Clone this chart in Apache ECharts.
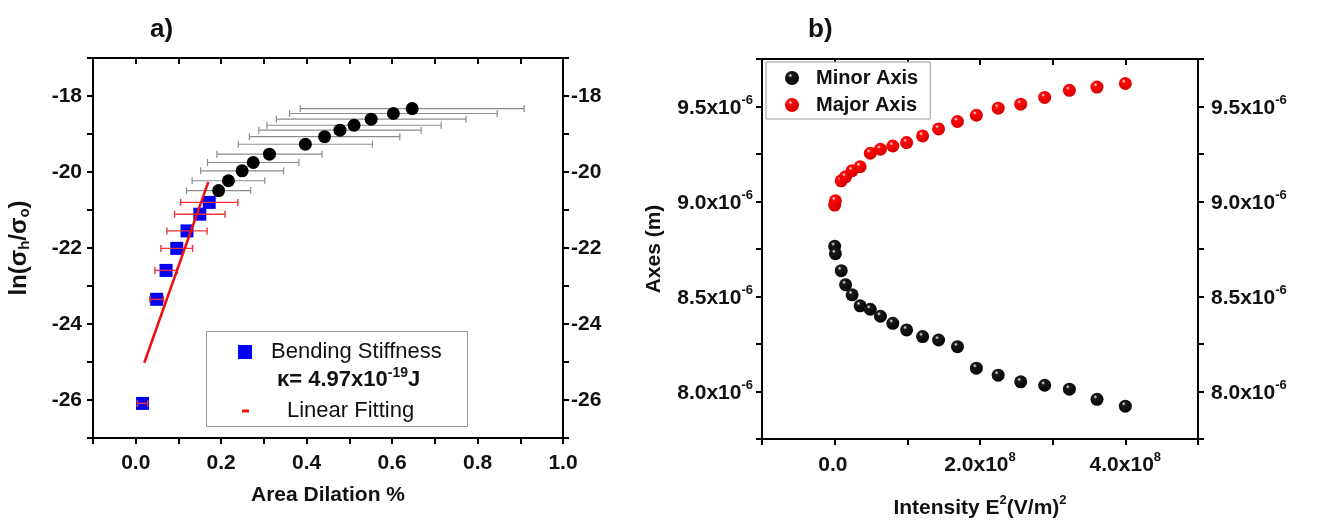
<!DOCTYPE html>
<html>
<head>
<meta charset="utf-8">
<script src="https://cdn.jsdelivr.net/npm/echarts@6/dist/echarts.min.js"></script>
<style>
  html, body { margin: 0; padding: 0; background: #fff; }
  #chart { width: 1322px; height: 520px; }
</style>
</head>
<body>
<div id="chart"></div>
<script>
// ---- Panel a: bending stiffness from area dilation ----
const dilationFree = [0.194, 0.217, 0.249, 0.275, 0.313, 0.397, 0.442, 0.478, 0.511, 0.551, 0.603, 0.647];
const lnRatioFree  = [-20.49, -20.23, -19.97, -19.75, -19.53, -19.27, -19.07, -18.90, -18.77, -18.61, -18.46, -18.33];
const dilationFreeErr = [0.075, 0.085, 0.097, 0.107, 0.123, 0.157, 0.176, 0.190, 0.204, 0.222, 0.243, 0.262];

const dilationBend = [0.016, 0.049, 0.071, 0.096, 0.120, 0.150, 0.172];
const lnRatioBend  = [-26.09, -23.35, -22.59, -22.01, -21.55, -21.11, -20.80];
const dilationBendErr = [0.012, 0.016, 0.026, 0.037, 0.047, 0.059, 0.067];

const fitDilation = [0.02, 0.17];
const fitLnRatio  = [-25.02, -20.26];

const xLabelsA = ['0.0', '0.2', '0.4', '0.6', '0.8', '1.0'];
const yLabelsA = [-18, -20, -22, -24, -26];

// ---- Panel b: axes vs. field intensity (x in 1e8 (V/m)^2, y in 1e-6 m) ----
const intensity = [0, 0.01, 0.09, 0.15, 0.24, 0.35, 0.49, 0.63, 0.80, 0.99, 1.21, 1.43, 1.69, 1.95, 2.25, 2.56, 2.89, 3.23, 3.61, 4.00];
const minorAxis = [8.764, 8.725, 8.636, 8.562, 8.509, 8.451, 8.433, 8.396, 8.359, 8.324, 8.289, 8.271, 8.236, 8.123, 8.086, 8.051, 8.033, 8.012, 7.959, 7.923];
const majorAxis = [8.981, 9.004, 9.109, 9.130, 9.162, 9.183, 9.254, 9.275, 9.292, 9.310, 9.345, 9.382, 9.421, 9.454, 9.491, 9.512, 9.548, 9.585, 9.602, 9.621];

const xLabelsB = [0, 2, 4];
const yLabelsB = [8.0, 8.5, 9.0, 9.5];

const FONT = 'Liberation Sans, Arial, sans-serif';
const TXT = '#111';
const supRich = {
  m: { fontSize: 21, fontWeight: 'bold', fontFamily: FONT, color: TXT, verticalAlign: 'bottom' },
  sup: { fontSize: 13, fontWeight: 'bold', fontFamily: FONT, color: TXT, verticalAlign: 'top', padding: [0, 0, 12, 0] }
};

function zip(xs, ys) { return xs.map((x, i) => [x, ys[i]]); }

function errorBars(xs, ys, errs, color, width, axisIdx, z) {
  return {
    type: 'custom',
    xAxisIndex: axisIdx, yAxisIndex: axisIdx,
    silent: true, z: z,
    data: xs.map((x, i) => [x, ys[i], errs[i]]),
    encode: { x: 0, y: 1 },
    renderItem: function (params, api) {
      const x = api.value(0), y = api.value(1), e = api.value(2);
      const a = api.coord([x - e, y]), b = api.coord([x + e, y]);
      const h = 3.5;
      const st = { stroke: color, lineWidth: width };
      return {
        type: 'group',
        children: [
          { type: 'line', shape: { x1: a[0], y1: a[1], x2: b[0], y2: b[1] }, style: st },
          { type: 'line', shape: { x1: a[0], y1: a[1] - h, x2: a[0], y2: a[1] + h }, style: st },
          { type: 'line', shape: { x1: b[0], y1: b[1] - h, x2: b[0], y2: b[1] + h }, style: st }
        ]
      };
    }
  };
}

const axisLine = { show: true, onZero: false, lineStyle: { color: '#000', width: 2 } };
const tickOut = { show: true, inside: false, length: 6, lineStyle: { color: '#000', width: 2 } };
const tickIn = { show: true, inside: true, length: 6, lineStyle: { color: '#000', width: 2 } };
const labelBase = { color: TXT, fontSize: 21, fontWeight: 'bold', fontFamily: FONT };
const nameStyle = { fontSize: 21, fontWeight: 'bold', fontFamily: FONT, color: TXT };

function sphere(base, dark) {
  return {
    type: 'radial', x: 0.38, y: 0.32, r: 0.75,
    colorStops: [
      { offset: 0, color: '#ffffff' },
      { offset: 0.2, color: base },
      { offset: 1, color: dark }
    ]
  };
}

function yLabelB(v) {
  const r = Math.round(v * 10) / 10;
  return (Math.abs(v - r) < 1e-6 && yLabelsB.indexOf(r) >= 0) ? '{m|' + r.toFixed(1) + 'x10}{sup|-6}' : '';
}

const option = {
  animation: false,
  backgroundColor: '#fff',
  title: [
    { text: 'a)', left: 145, top: 12, textStyle: { fontSize: 26, fontWeight: 'bold', fontFamily: FONT, color: TXT } },
    { text: 'b)', left: 803, top: 12, textStyle: { fontSize: 26, fontWeight: 'bold', fontFamily: FONT, color: TXT } }
  ],
  grid: [
    { left: 93, right: 759, top: 58, bottom: 82, outerBoundsMode: 'none', containLabel: false },
    { left: 762, right: 124, top: 59, bottom: 81, outerBoundsMode: 'none', containLabel: false }
  ],
  xAxis: [
    {
      gridIndex: 0, type: 'value', min: -0.1, max: 1.0, interval: 0.1, position: 'bottom',
      axisLine: axisLine, axisTick: tickOut, splitLine: { show: false },
      axisLabel: Object.assign({}, labelBase, {
        margin: 15,
        formatter: v => { const s = (Math.round(v * 10) / 10).toFixed(1); return xLabelsA.indexOf(s) >= 0 ? s : ''; }
      }),
      name: 'Area Dilation %', nameLocation: 'middle', nameGap: 47, nameTextStyle: nameStyle
    },
    {
      gridIndex: 0, type: 'value', min: -0.1, max: 1.0, interval: 0.1, position: 'top',
      axisLine: axisLine, axisTick: tickIn, splitLine: { show: false }, axisLabel: { show: false }
    },
    {
      gridIndex: 1, type: 'value', min: -1, max: 5, interval: 1, position: 'bottom',
      axisLine: axisLine, axisTick: tickOut, splitLine: { show: false },
      axisLabel: Object.assign({}, labelBase, {
        margin: 12,
        formatter: v => {
          const n = Math.round(v);
          if (xLabelsB.indexOf(n) < 0) return '';
          return n === 0 ? '{m|0.0}{sup| }' : '{m|' + n.toFixed(1) + 'x10}{sup|8}';
        },
        rich: supRich
      }),
      name: '{m|Intensity E}{sup|2}{m|(V/m)}{sup|2}', nameLocation: 'middle', nameGap: 55,
      nameTextStyle: Object.assign({}, nameStyle, { rich: supRich })
    },
    {
      gridIndex: 1, type: 'value', min: -1, max: 5, interval: 1, position: 'top',
      axisLine: axisLine, axisTick: tickIn, splitLine: { show: false }, axisLabel: { show: false }
    }
  ],
  yAxis: [
    {
      gridIndex: 0, type: 'value', min: -27, max: -17, interval: 1, position: 'left',
      axisLine: axisLine, axisTick: tickOut, splitLine: { show: false },
      axisLabel: Object.assign({}, labelBase, {
        margin: 11,
        formatter: v => (yLabelsA.indexOf(Math.round(v)) >= 0 ? String(Math.round(v)) : '')
      }),
      name: '{n|ln(σ}{s|h}{n|/σ}{s|o}{n|)}', nameLocation: 'middle', nameGap: 61, nameRotate: 90,
      nameTextStyle: {
        rich: {
          n: { fontSize: 24, fontWeight: 'bold', fontFamily: FONT, color: TXT },
          s: { fontSize: 15, fontWeight: 'bold', fontFamily: FONT, color: TXT, verticalAlign: 'bottom', padding: [10, 0, 0, 0] }
        }
      }
    },
    {
      gridIndex: 0, type: 'value', min: -27, max: -17, interval: 1, position: 'right',
      axisLine: axisLine, axisTick: tickOut, splitLine: { show: false },
      axisLabel: Object.assign({}, labelBase, {
        margin: 8,
        formatter: v => (yLabelsA.indexOf(Math.round(v)) >= 0 ? String(Math.round(v)) : '')
      })
    },
    {
      gridIndex: 1, type: 'value', min: 7.75, max: 9.75, interval: 0.25, position: 'left',
      axisLine: axisLine, axisTick: tickOut, splitLine: { show: false },
      axisLabel: Object.assign({}, labelBase, { margin: 9, formatter: yLabelB, rich: supRich }),
      name: 'Axes (m)', nameLocation: 'middle', nameGap: 97, nameRotate: 90, nameTextStyle: nameStyle
    },
    {
      gridIndex: 1, type: 'value', min: 7.75, max: 9.75, interval: 0.25, position: 'right',
      axisLine: axisLine, axisTick: tickOut, splitLine: { show: false },
      axisLabel: Object.assign({}, labelBase, { margin: 13, formatter: yLabelB, rich: supRich })
    }
  ],
  legend: [
    {
      data: [{ name: 'Bending Stiffness', icon: 'rect' }],
      left: 238, top: 341, itemWidth: 14, itemHeight: 14, padding: 0,
      textStyle: { fontSize: 22, fontFamily: FONT, color: TXT, padding: [0, 0, 0, 14] },
      selectedMode: false
    },
    {
      data: [{ name: 'Linear Fitting', icon: 'rect' }],
      left: 242, top: 400, itemWidth: 7, itemHeight: 3, padding: 0,
      textStyle: { fontSize: 22, fontFamily: FONT, color: TXT, padding: [0, 0, 0, 33] },
      selectedMode: false
    },
    {
      data: ['Minor Axis', 'Major Axis'],
      orient: 'vertical', left: 766, top: 62, itemWidth: 14, itemHeight: 14, itemGap: 5,
      padding: [5, 12, 3, 19],
      borderColor: '#999', borderWidth: 1, backgroundColor: '#fff',
      textStyle: { fontSize: 20, fontWeight: 'bold', fontFamily: FONT, color: TXT, lineHeight: 22, padding: [0, 0, 0, 12] },
      selectedMode: false
    }
  ],
  graphic: [
    {
      type: 'rect', left: 206, top: 331, z: 1,
      shape: { width: 261, height: 95 },
      style: { fill: 'rgba(0,0,0,0)', stroke: '#999', lineWidth: 1 }
    },
    {
      type: 'text', left: 277, top: 366, z: 5,
      style: {
        text: '{b|κ= 4.97x10}{p|-19}{b|J}',
        rich: {
          b: { fontSize: 22, fontWeight: 'bold', fontFamily: FONT, fill: TXT, verticalAlign: 'bottom' },
          p: { fontSize: 14, fontWeight: 'bold', fontFamily: FONT, fill: TXT, verticalAlign: 'top', padding: [0, 0, 11, 0] }
        }
      }
    }
  ],
  series: [
    errorBars(dilationFree, lnRatioFree, dilationFreeErr, '#8c8c8c', 1.2, 0, 2),
    {
      name: 'Free', type: 'scatter', xAxisIndex: 0, yAxisIndex: 0, z: 3,
      symbol: 'circle', symbolSize: 13, itemStyle: { color: '#000', opacity: 1 },
      data: zip(dilationFree, lnRatioFree)
    },
    {
      name: 'Bending Stiffness', type: 'scatter', xAxisIndex: 0, yAxisIndex: 0, z: 4,
      symbol: 'rect', symbolSize: 13, itemStyle: { color: '#0000f5', opacity: 1 },
      data: zip(dilationBend, lnRatioBend)
    },
    errorBars(dilationBend, lnRatioBend, dilationBendErr, '#e8343a', 1.4, 0, 5),
    {
      name: 'Linear Fitting', type: 'line', xAxisIndex: 0, yAxisIndex: 0, z: 6,
      symbol: 'none', lineStyle: { color: '#f00d0d', width: 2.5 }, itemStyle: { color: '#f00d0d' },
      data: zip(fitDilation, fitLnRatio)
    },
    {
      name: 'Minor Axis', type: 'scatter', xAxisIndex: 2, yAxisIndex: 2, z: 3,
      symbol: 'circle', symbolSize: 13, itemStyle: { color: sphere('#1a1a1a', '#000'), opacity: 1 },
      data: zip(intensity, minorAxis)
    },
    {
      name: 'Major Axis', type: 'scatter', xAxisIndex: 2, yAxisIndex: 2, z: 3,
      symbol: 'circle', symbolSize: 13, itemStyle: { color: sphere('#ff0808', '#d00000'), opacity: 1 },
      data: zip(intensity, majorAxis)
    }
  ]
};

const chart = echarts.init(document.getElementById('chart'), null, { renderer: 'canvas' });
chart.setOption(option);
</script>
</body>
</html>
